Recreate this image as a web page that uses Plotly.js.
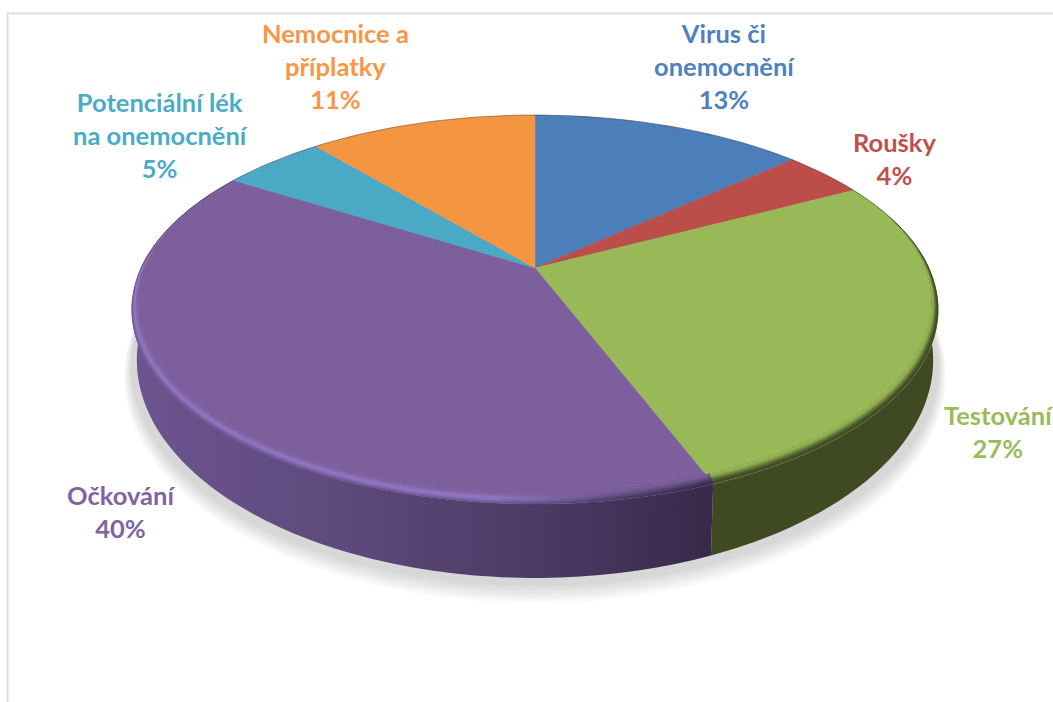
<!DOCTYPE html>
<html>
<head>
<meta charset="utf-8">
<script src="https://cdn.plot.ly/plotly-3.0.1.min.js"></script>
<style>
html, body { margin: 0; padding: 0; background: #fff; }
#graph { width: 1053px; height: 702px; }
</style>
</head>
<body>
<div id="graph"></div>
<script>
// Values, clockwise from 12 o'clock (labels show them rounded)
const categories = ['Virus či<br>onemocnění', 'Roušky', 'Testování', 'Očkování', 'Potenciální lék<br>na onemocnění', 'Nemocnice a<br>příplatky'];
const shares = [13.4, 4.0, 26.7, 39.7, 5.0, 11.2];

const topColors = ['#4c7eba', '#bc4e4a', '#99b858', '#7e5f9d', '#4aa9c5', '#f49541'];
const labelColors = ['#4f81bd', '#c0504d', '#9bbb59', '#8064a2', '#4bacc6', '#f79646'];
const labelX = [724, 894, 998, 121, 160, 335];
const labelY = [66, 158, 431, 511, 135, 66];

// Gradients for the wall of the disc, only the two front slices show it
const sideScales = {
    2: [[0, '#3f4a22'], [1, '#3f4a22']],
    3: [[0, '#6d5590'], [0.35, '#5e4a7c'], [0.7, '#4c3a66'], [1, '#38294a']]
};
// Bevel colours from rim edge to flat face
const rimLeft = {
    2: ['#3f4a22', '#45522a', '#657a38', '#86a34c', '#99b858'],
    3: ['#6d5590', '#8a6fb8', '#9175c0', '#8468ac', '#7e5f9d']
};
const rimRight = {
    2: ['#3f4a22', '#45522a', '#657a38', '#86a34c', '#99b858'],
    3: ['#38294a', '#403155', '#54426f', '#6c5488', '#7e5f9d']
};

// Perspective of the disc: top plane and bottom plane
const k = 0.2134;
const cx = 535;
const topPlane = { A: 394, B: 185.6, y0: 268 };
const lowPlane = { A: 389, B: 208, y0: 313.5 };
const rimWidth = 11;
const rimBands = 11;

function project(plane, t, inset) {
    const X = Math.sin(t), Z = Math.cos(t);
    const den = 1 + k * Z;
    const w = inset ? Math.max(0, Math.min(1, (0.3 - Z) / 0.7)) * inset : 0;
    return [cx + (plane.A - w * 0.8) * X / den, plane.y0 - (plane.B - w * 0.8) * Z / den];
}

function arc(plane, a, b, inset) {
    const pts = [];
    const n = Math.max(4, Math.ceil((b - a) / 0.02));
    for (let i = 0; i <= n; i++) {
        pts.push(project(plane, a + (b - a) * i / n, inset));
    }
    return pts;
}

function hexToRgb(h) {
    return [1, 3, 5].map(i => parseInt(h.slice(i, i + 2), 16));
}

function blend(c1, c2, f) {
    const a = hexToRgb(c1), b = hexToRgb(c2);
    return '#' + a.map((v, i) => Math.round(v + (b[i] - v) * f).toString(16).padStart(2, '0')).join('');
}

// colour at position f (0..1) along a list of stops
function pick(stops, f) {
    const p = f * (stops.length - 1);
    const i = Math.min(Math.floor(p), stops.length - 2);
    return blend(stops[i], stops[i + 1], p - i);
}

function area(pts, color) {
    return {
        x: pts.map(p => p[0]), y: pts.map(p => p[1]),
        type: 'scatter', mode: 'lines', fill: 'toself', fillcolor: color,
        line: { color: color, width: 0.5 }, hoverinfo: 'skip'
    };
}

function gradientArea(pts, scale, start, stop) {
    return {
        x: pts.map(p => p[0]), y: pts.map(p => p[1]),
        type: 'scatter', mode: 'none', fill: 'toself',
        fillgradient: { type: 'horizontal', colorscale: scale, start: start, stop: stop },
        hoverinfo: 'skip'
    };
}

const total = shares.reduce((s, v) => s + v, 0);
const edges = [0];
shares.forEach(v => edges.push(edges[edges.length - 1] + v / total * 2 * Math.PI));

const traces = [];

// soft shadow below the disc
for (let i = 8; i >= 1; i--) {
    const pts = [];
    for (let j = 0; j <= 120; j++) {
        const t = j / 120 * 2 * Math.PI;
        pts.push([cx + (403 + i) * Math.sin(t), 366 + i * 1.3 + (218 + i * 1.1) * Math.cos(t)]);
    }
    traces.push(area(pts, 'rgba(0,0,0,0.018)'));
    traces[traces.length - 1].line.width = 0;
}

// walls
shares.forEach((v, i) => {
    if (!sideScales[i]) return;
    const wall = arc(topPlane, edges[i], edges[i + 1]).concat(arc(lowPlane, edges[i], edges[i + 1]).reverse());
    traces.push(gradientArea(wall, sideScales[i], 130, 712));
});

// flat top
shares.forEach((v, i) => {
    const apex = [cx, topPlane.y0];
    traces.push(area([apex].concat(arc(topPlane, edges[i], edges[i + 1]), [apex]), topColors[i]));
});

// bevel on the front rim, each band painted over the previous one
shares.forEach((v, i) => {
    if (!rimLeft[i]) return;
    for (let b = 0; b < rimBands; b++) {
        const f = b / (rimBands - 1);
        const inset = rimWidth * b / rimBands;
        const ring = arc(topPlane, edges[i], edges[i + 1], inset).concat(arc(topPlane, edges[i], edges[i + 1], rimWidth).reverse());
        const left = pick(rimLeft[i], f);
        const right = pick(rimRight[i], f);
        const scale = [[0, left], [0.62, left], [0.85, blend(left, right, 0.7)], [1, right]];
        traces.push(gradientArea(ring, scale, 130, 712));
    }
});

// thin dark line along the back edge
const backEdge = arc(topPlane, -Math.PI * 0.5, Math.PI * 0.5);
traces.push({
    x: backEdge.map(p => p[0]),
    y: backEdge.map(p => p[1]),
    type: 'scatter', mode: 'lines', line: { color: 'rgba(50,50,50,0.5)', width: 0.8 }, hoverinfo: 'skip'
});

const annotations = categories.map((c, i) => ({
    x: labelX[i], y: labelY[i], xref: 'x', yref: 'y',
    text: c + '<br>' + Math.round(shares[i]) + '%',
    showarrow: false, xanchor: 'center', yanchor: 'middle', align: 'center',
    font: { family: 'Lato, sans-serif', size: 25.5, color: labelColors[i], weight: 700 }
}));

const layout = {
    width: 1053, height: 702,
    margin: { l: 0, r: 0, t: 0, b: 0 },
    paper_bgcolor: '#ffffff', plot_bgcolor: '#ffffff',
    showlegend: false,
    xaxis: { range: [0, 1053], visible: false, fixedrange: true },
    yaxis: { range: [702, 0], visible: false, fixedrange: true },
    annotations: annotations,
    shapes: [
        { type: 'line', xref: 'paper', yref: 'paper', x0: 7.5 / 1053, x1: 7.5 / 1053, y0: 0, y1: 1 - 13 / 702, line: { color: '#dedede', width: 2 } },
        { type: 'line', xref: 'paper', yref: 'paper', x0: 7.5 / 1053, x1: 1, y0: 1 - 13.5 / 702, y1: 1 - 13.5 / 702, line: { color: '#dedede', width: 2 } }
    ]
};

Plotly.newPlot('graph', traces, layout, { staticPlot: true, displayModeBar: false });
</script>
</body>
</html>
